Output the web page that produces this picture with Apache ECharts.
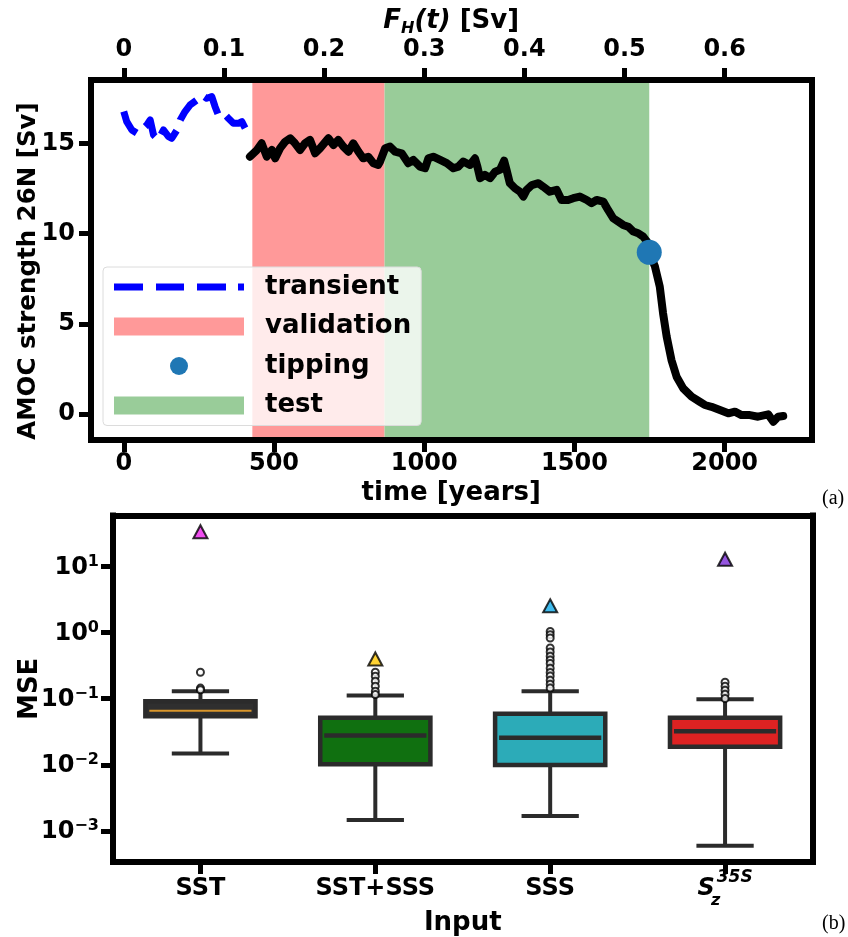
<!DOCTYPE html>
<html><head><meta charset="utf-8">
<script src="https://cdn.jsdelivr.net/npm/echarts@6/dist/echarts.min.js"></script>
<style>html,body{margin:0;padding:0;background:#fff}#c{width:848px;height:937px}</style>
</head><body><div id="c"></div>
<script>
// ---------- panel (a) data ----------
const transientYears  = [0,10,27,44,60,77,88,99,115,132,149,160,177,188,204,221,243,260,276,293,304,315,332,348,365,382,393,404,420];
const transientValues = [16.76,16.2,15.74,15.56,15.74,16.02,16.3,15.47,15.19,15.74,15.37,15.28,15.74,16.3,16.76,17.13,17.4,17.68,17.5,17.59,17.03,16.57,16.67,16.39,16.11,16.11,16.2,15.84,15.65];

const amocYears = [420,443,459,476,493,504,520,537,554,570,587,603,620,637,653,667,681,698,714,731,748,764,781,797,814,831,847,853,870,886,903,925,947,964,986,1003,1014,1030,1053,1075,1097,1114,1130,1152,1169,1177,1186,1202,1219,1236,1252,1266,1274,1285,1302,1319,1330,1341,1358,1380,1396,1418,1441,1457,1479,1496,1518,1541,1557,1574,1596,1612,1629,1646,1662,1679,1696,1712,1729,1746,1749,1768,1784,1795,1807,1823,1840,1862,1890,1917,1934,1956,1984,2012,2034,2056,2084,2111,2145,2162,2178,2195];
const amocValues = [14.26,14.63,15.0,14.26,14.63,14.17,14.72,15.09,15.28,15.0,14.63,15.0,15.19,14.45,14.72,15.0,15.28,14.91,15.19,14.82,14.54,15.0,14.54,14.17,14.26,13.9,13.8,13.99,14.73,14.82,14.54,14.45,13.9,14.08,13.71,13.62,14.17,14.26,14.08,13.9,13.62,13.71,13.99,13.8,14.17,13.71,13.07,13.25,13.07,13.43,13.53,14.04,13.53,12.79,12.51,12.32,12.05,12.42,12.69,12.79,12.6,12.32,12.42,11.86,11.86,11.96,12.05,11.86,11.68,11.86,11.77,11.31,10.85,10.66,10.48,10.38,10.11,10.02,9.83,9.46,8.96,8.17,7.06,5.58,4.29,2.99,2.07,1.42,0.96,0.68,0.5,0.40,0.22,0.04,0.13,-0.06,-0.06,-0.15,-0.02,-0.43,-0.15,-0.11];

const validationRange = [428, 868];
const testRange = [868, 1749];
const tippingPoint = [1749, 8.96];

const yearTicks = [0, 500, 1000, 1500, 2000];
const fhTicks = [0, 0.1, 0.2, 0.3, 0.4, 0.5, 0.6];
const amocTicks = [0, 5, 10, 15];
const fhPerYear = 0.0003;

// ---------- panel (b) data ----------
const inputs = ['SST', 'SST+SSS', 'SSS', 'Sz35S'];
const whiskerLow  = [0.0149, 0.001466, 0.00168, 0.000594];
const quartile1   = [0.0545, 0.01016, 0.0099, 0.0188];
const medians     = [0.0656, 0.0278, 0.0257, 0.0323];
const quartile3   = [0.0916, 0.0515, 0.0592, 0.0515];
const whiskerHigh = [0.130, 0.1117, 0.130, 0.0983];
const outliersSST    = [0.252, 0.145, 0.137];
const outliersSSTSSS = [0.252, 0.219, 0.184, 0.155, 0.130, 0.116];
const outliersSSS    = [1.045, 0.93, 0.83, 0.586, 0.51, 0.44, 0.386, 0.34, 0.29, 0.25, 0.22, 0.19, 0.166, 0.145];
const outliersSz     = [0.178, 0.154, 0.135, 0.117, 0.101];
const worstCase = [33.7, 0.40, 2.55, 12.9];
const mseTicks = [0.001, 0.01, 0.1, 1, 10];

// ---------- styles ----------
const FONT = 'DejaVu Sans';
const boxFill = ['#2f2f2f', '#107010', '#2cabb8', '#dd2222'];
const medianColor = ['#d9962b', '#2b2b2b', '#2b2b2b', '#2b2b2b'];
const triColor = ['#ee22ee', '#ffc800', '#10aae8', '#7b2bd8'];
const EDGE = '#2b2b2b';

const tMin = -109, tMax = 2289;
const aMin = -1.44, aMax = 18.51;
const mMin = Math.pow(10, -3.472), mMax = Math.pow(10, 1.773);

const frameLine = {show: true, onZero: false, lineStyle: {color: '#000', width: 6, cap: 'square'}};
const tickStyle = {show: true, length: 12, lineStyle: {color: '#000', width: 5}};
const labelBase = {color: '#000', fontFamily: FONT, fontWeight: 'bold', fontSize: 24};
const nameBase = {color: '#000', fontFamily: FONT, fontWeight: 'bold', fontSize: 26};

const chart = echarts.init(document.getElementById('c'), null, {renderer: 'canvas'});

const outlierData = [];
[outliersSST, outliersSSTSSS, outliersSSS, outliersSz].forEach((arr, i) => arr.forEach(v => outlierData.push([i, v])));

const boxData = inputs.map((_, i) => [i, whiskerLow[i], quartile1[i], medians[i], quartile3[i], whiskerHigh[i]]);

const supRich = {
  b: {fontFamily: FONT, fontWeight: 'bold', fontSize: 24, color: '#000', lineHeight: 26, verticalAlign: 'bottom'},
  s: {fontFamily: FONT, fontWeight: 'bold', fontSize: 16, color: '#000', lineHeight: 20, verticalAlign: 'top'}
};

const dashIcon = 'path://M0,0H29V7H0Z M42,0H70V7H42Z M83,0H112V7H83Z M124,0H130V7H124Z';

const option = {
  animation: false,
  backgroundColor: '#fff',
  grid: [
    {left: 91, top: 80, right: 36.5, height: 360, show: false},
    {left: 113, top: 515.5, right: 35.5, height: 347.5, show: false}
  ],
  legend: {
    orient: 'vertical', left: 103, top: 267,
    padding: [6, 10, 6, 11],
    backgroundColor: 'rgba(255,255,255,0.8)', borderColor: '#dcdcdc', borderWidth: 1, borderRadius: 4,
    itemWidth: 130, itemHeight: 18, itemGap: 11.5,
    textStyle: {color: '#000', fontFamily: FONT, fontWeight: 'bold', fontSize: 26, lineHeight: 28, padding: [0, 0, 0, 16]},
    data: [
      {name: 'transient', icon: dashIcon, itemStyle: {color: '#0000ff'}},
      {name: 'validation', icon: 'rect'},
      {name: 'tipping', icon: 'circle'},
      {name: 'test', icon: 'rect'}
    ],
    selectedMode: false
  },
  xAxis: [
    {type: 'value', gridIndex: 0, position: 'bottom', min: tMin, max: tMax, z: 10,
     axisLine: frameLine, axisTick: Object.assign({customValues: yearTicks}, tickStyle),
     axisLabel: Object.assign({customValues: yearTicks, margin: 12, formatter: v => String(v)}, labelBase),
     splitLine: {show: false},
     name: 'time [years]', nameLocation: 'middle', nameGap: 40,
     nameTextStyle: nameBase},
    {type: 'value', gridIndex: 0, position: 'top', min: tMin * fhPerYear, max: tMax * fhPerYear, z: 10,
     axisLine: frameLine, axisTick: Object.assign({customValues: fhTicks}, tickStyle),
     axisLabel: Object.assign({customValues: fhTicks, margin: 18, formatter: v => v === 0 ? '0' : v.toFixed(1)}, labelBase),
     splitLine: {show: false},
     name: '{i|F}{sub|H}{i|(t)}{n| [Sv]}', nameLocation: 'middle', nameGap: 41,
     nameTextStyle: {rich: {
       i: {fontFamily: FONT, fontWeight: 'bold', fontStyle: 'italic', fontSize: 26, color: '#000', lineHeight: 32, verticalAlign: 'middle'},
       sub: {fontFamily: FONT, fontWeight: 'bold', fontStyle: 'italic', fontSize: 16, color: '#000', lineHeight: 18, verticalAlign: 'bottom'},
       n: {fontFamily: FONT, fontWeight: 'bold', fontSize: 26, color: '#000', lineHeight: 32, verticalAlign: 'middle'}
     }}},
    {type: 'category', gridIndex: 1, position: 'bottom', data: inputs, z: 10,
     axisLine: frameLine, axisTick: Object.assign({alignWithLabel: true}, tickStyle),
     axisLabel: {margin: 7, formatter: v => v === 'Sz35S' ? '{si|S}{sub|z}{sup|35S}' : '{n|' + v + '}',
       rich: {
         n: {fontFamily: FONT, fontWeight: 'bold', fontSize: 24, color: '#000', lineHeight: 40, verticalAlign: 'middle'},
         si: {fontFamily: FONT, fontWeight: 'bold', fontStyle: 'italic', fontSize: 24, color: '#000', lineHeight: 40, verticalAlign: 'middle'},
         sub: {fontFamily: FONT, fontWeight: 'bold', fontStyle: 'italic', fontSize: 16, color: '#000', lineHeight: 20, verticalAlign: 'bottom', width: 2},
         sup: {fontFamily: FONT, fontWeight: 'bold', fontStyle: 'italic', fontSize: 17, color: '#000', lineHeight: 20, verticalAlign: 'top'}
       }},
     splitLine: {show: false},
     name: 'Input', nameLocation: 'middle', nameGap: 30, nameTextStyle: nameBase},
    {type: 'value', gridIndex: 1, position: 'top', min: 0, max: 1, z: 10,
     axisLine: frameLine, axisTick: {show: false}, axisLabel: {show: false}, splitLine: {show: false}}
  ],
  yAxis: [
    {type: 'value', gridIndex: 0, position: 'left', min: aMin, max: aMax, z: 10,
     axisLine: frameLine, axisTick: Object.assign({customValues: amocTicks}, tickStyle),
     axisLabel: Object.assign({customValues: amocTicks, margin: 16}, labelBase),
     splitLine: {show: false},
     name: 'AMOC strength 26N [Sv]', nameLocation: 'middle', nameGap: 50, nameRotate: 90, nameMoveOverlap: false,
     nameTextStyle: Object.assign({}, nameBase, {fontSize: 24.5, padding: [0, 22, 0, 0]})},
    {type: 'value', gridIndex: 0, position: 'right', min: aMin, max: aMax, z: 10,
     axisLine: frameLine, axisTick: {show: false}, axisLabel: {show: false}, splitLine: {show: false}},
    {type: 'log', logBase: 10, gridIndex: 1, position: 'left', min: mMin, max: mMax, z: 10,
     axisLine: frameLine, axisTick: Object.assign({customValues: mseTicks}, tickStyle),
     axisLabel: {customValues: mseTicks, margin: 14, formatter: v => {
        const k = Math.round(Math.log10(v));
        return '{b|10}{s|' + (k < 0 ? '\u2212' + (-k) : k) + '}';
      }, rich: supRich},
     splitLine: {show: false}, minorSplitLine: {show: false},
     name: 'MSE', nameLocation: 'middle', nameGap: 70, nameRotate: 90, nameMoveOverlap: false, nameTextStyle: nameBase},
    {type: 'value', gridIndex: 1, position: 'right', min: 0, max: 1, z: 10,
     axisLine: frameLine, axisTick: {show: false}, axisLabel: {show: false}, splitLine: {show: false}}
  ],
  series: [
    {name: 'validation', type: 'line', xAxisIndex: 0, yAxisIndex: 0, data: [], color: '#ff9999', z: 1, symbol: 'none',
     markArea: {silent: true, itemStyle: {color: '#ff9999'}, data: [[{xAxis: validationRange[0]}, {xAxis: validationRange[1]}]]}},
    {name: 'test', type: 'line', xAxisIndex: 0, yAxisIndex: 0, data: [], color: '#99cc99', z: 1, symbol: 'none',
     markArea: {silent: true, itemStyle: {color: '#99cc99'}, data: [[{xAxis: testRange[0]}, {xAxis: testRange[1]}]]}},
    {name: 'transient', type: 'line', xAxisIndex: 0, yAxisIndex: 0, z: 3, symbol: 'none', color: '#0000ff',
     data: transientYears.map((t, i) => [t, transientValues[i]]),
     lineStyle: {color: '#0000ff', width: 7, type: [26, 11], join: 'round'}},
    {name: 'amoc', type: 'line', xAxisIndex: 0, yAxisIndex: 0, z: 3, symbol: 'none', color: '#000',
     data: amocYears.map((t, i) => [t, amocValues[i]]),
     lineStyle: {color: '#000', width: 8, join: 'round', cap: 'round'}},
    {name: 'tipping', type: 'scatter', xAxisIndex: 0, yAxisIndex: 0, z: 4, symbol: 'circle', symbolSize: 25,
     itemStyle: {color: '#1f77b4', opacity: 1}, data: [tippingPoint]},

    {name: 'box', type: 'custom', xAxisIndex: 2, yAxisIndex: 2, z: 3,
     data: boxData,
     encode: {x: 0, y: [1, 2, 3, 4, 5]},
     renderItem: (params, api) => {
       const i = api.value(0);
       const lo = api.coord([i, api.value(1)]);
       const q1 = api.coord([i, api.value(2)]);
       const md = api.coord([i, api.value(3)]);
       const q3 = api.coord([i, api.value(4)]);
       const hi = api.coord([i, api.value(5)]);
       const band = api.size([1, 0.1], [i, 0.1])[0];
       const bw = band * 0.63, cw = bw * 0.52;
       const x = lo[0];
       const ls = {stroke: EDGE, lineWidth: 4};
       const di = params.dataIndex;
       return {type: 'group', children: [
         {type: 'line', shape: {x1: x, y1: lo[1], x2: x, y2: q1[1]}, style: ls},
         {type: 'line', shape: {x1: x, y1: q3[1], x2: x, y2: hi[1]}, style: ls},
         {type: 'line', shape: {x1: x - cw / 2, y1: lo[1], x2: x + cw / 2, y2: lo[1]}, style: ls},
         {type: 'line', shape: {x1: x - cw / 2, y1: hi[1], x2: x + cw / 2, y2: hi[1]}, style: ls},
         {type: 'rect', shape: {x: x - bw / 2, y: q3[1], width: bw, height: q1[1] - q3[1]},
          style: {fill: boxFill[di], stroke: EDGE, lineWidth: 4.5}},
         {type: 'line', shape: {x1: x - bw / 2 + 4, y1: md[1], x2: x + bw / 2 - 4, y2: md[1]},
          style: {stroke: medianColor[di], lineWidth: di === 0 ? 2 : 4.5}}
       ]};
     }},
    {name: 'outliers', type: 'scatter', xAxisIndex: 2, yAxisIndex: 2, z: 4, symbol: 'circle', symbolSize: 7,
     itemStyle: {color: '#fff', borderColor: '#000', borderWidth: 2}, data: outlierData},
    {name: 'worst', type: 'scatter', xAxisIndex: 2, yAxisIndex: 2, z: 5, symbol: 'triangle', symbolSize: [14, 13],
     data: worstCase.map((v, i) => ({value: [i, v], itemStyle: {color: triColor[i], borderColor: '#000', borderWidth: 2}}))}
  ],
  graphic: [
    {type: 'text', left: 822, top: 489, style: {text: '(a)', font: '20px "Liberation Serif"', fill: '#000'}},
    {type: 'text', left: 822, top: 914, style: {text: '(b)', font: '20px "Liberation Serif"', fill: '#000'}}
  ]
};
chart.setOption(option);
</script>
</body></html>
